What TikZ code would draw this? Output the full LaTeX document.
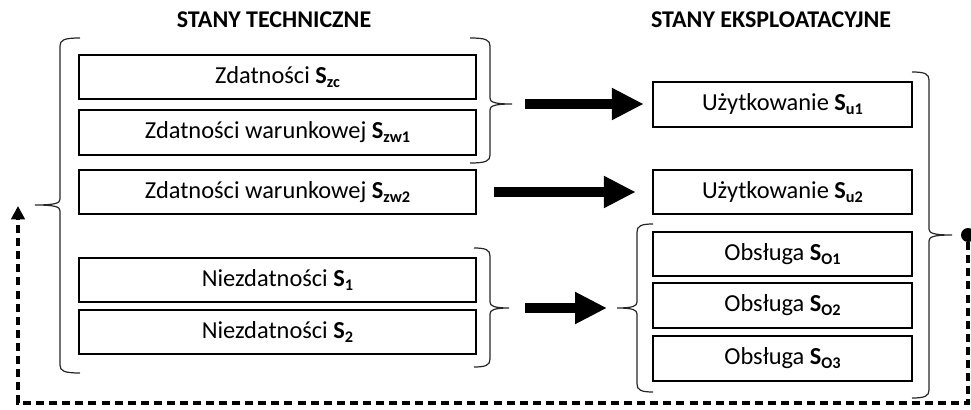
\documentclass[tikz,border=0pt]{standalone}
\usepackage{fontspec}
\setmainfont{Carlito}
\usepackage{tikz}
\usetikzlibrary{arrows.meta}

\newcommand{\stsub}[1]{\raisebox{-0.35ex}{\fontsize{12.2}{13}\selectfont\bfseries #1}}

\tikzset{
  ltbox/.style={draw, line width=1.8pt, inner sep=0pt, minimum width=297.75pt, minimum height=33.4pt,
    font=\fontsize{18.3}{21}\selectfont},
  rtbox/.style={ltbox, minimum width=194.25pt},
  heading/.style={font=\fontsize{18}{21}\selectfont\bfseries},
  curly/.style={line width=0.9pt, black!85},
  blockarrow/.style={line width=7.5pt, -{Triangle[length=24pt,width=22.5pt]}},
  feedback/.style={line width=2.8pt, dash pattern=on 6pt off 3.8pt, -{Triangle[length=10pt,width=10pt]}}
}

\begin{document}
\begin{tikzpicture}[x=0.75pt,y=0.75pt,yscale=-1,xscale=1]
\useasboundingbox (0,0) rectangle (971,410);

% Text Node
\node[heading] (techhead) at (274,20) {STANY TECHNICZNE};
% Text Node
\node[heading] (ekshead) at (771,20) {STANY EKSPLOATACYJNE};

%Shape: Rectangle
\node[ltbox] (zc) at (277.5,77) {Zdatności \textbf{S}\stsub{zc}};
\node[ltbox] (zw1) at (277.5,132.5) {Zdatności warunkowej \textbf{S}\stsub{zw1}};
\node[ltbox] (zw2) at (277.5,192) {Zdatności warunkowej \textbf{S}\stsub{zw2}};
\node[ltbox] (s1) at (277.5,280) {Niezdatności \textbf{S}\stsub{1}};
\node[ltbox] (s2) at (277.5,332) {Niezdatności \textbf{S}\stsub{2}};

%Shape: Rectangle
\node[rtbox] (u1) at (782.5,104.5) {Użytkowanie \textbf{S}\stsub{u1}};
\node[rtbox] (u2) at (782.5,192) {Użytkowanie \textbf{S}\stsub{u2}};
\node[rtbox] (o1) at (782.5,254) {Obsługa \textbf{S}\stsub{O1}};
\node[rtbox] (o2) at (782.5,305.5) {Obsługa \textbf{S}\stsub{O2}};
\node[rtbox] (o3) at (782.5,358.5) {Obsługa \textbf{S}\stsub{O3}};

%Shape: Brace
\draw[curly] (80,38) .. controls (64,38) and (60,40) .. (60,46) -- (60,199) .. controls (60,203) and (56,205) .. (35,205)
  .. controls (56,205) and (60,207) .. (60,211) -- (60,365) .. controls (60,371) and (64,373) .. (80,373);
%Shape: Brace
\draw[curly] (470,38) .. controls (486,38) and (490,40) .. (490,46) -- (490,98) .. controls (490,102) and (494,104) .. (512,104)
  .. controls (494,104) and (490,106) .. (490,110) -- (490,155) .. controls (490,161) and (486,163) .. (470,163);
%Shape: Brace
\draw[curly] (474,248) .. controls (486,248) and (490,250) .. (490,256) -- (490,302) .. controls (490,306) and (494,308) .. (509,308)
  .. controls (494,308) and (490,310) .. (490,314) -- (490,359) .. controls (490,365) and (486,367) .. (474,367);
%Shape: Brace
\draw[curly] (653,224) .. controls (641,224) and (637,226) .. (637,232) -- (637,302) .. controls (637,306) and (633,308) .. (617,308)
  .. controls (633,308) and (637,310) .. (637,314) -- (637,384) .. controls (637,390) and (641,392) .. (653,392);
%Shape: Brace
\draw[curly] (912,72) .. controls (925,72) and (929,74) .. (929,80) -- (929,229) .. controls (929,233) and (933,235) .. (952,235)
  .. controls (933,235) and (929,237) .. (929,241) -- (929,390) .. controls (929,396) and (925,398) .. (912,398);

% brace tips
\coordinate (tipA) at (512,104);
\coordinate (tipB) at (509,308);
\coordinate (tipC) at (617,308);

%Arrows
\draw[blockarrow, shorten <=9.75pt, shorten >=6pt] (tipA) -- (tipA -| u1.west);
\draw[blockarrow, shorten <=12.75pt, shorten >=12pt] (zw2.east) -- (u2.west);
\draw[blockarrow, shorten <=12pt, shorten >=7.5pt] (tipB) -- (tipC);

%Return line
\node[circle, fill, inner sep=0pt, minimum size=10.5pt] (dot) at (968,235) {};
\coordinate (lowR) at (968,403);
\coordinate (back) at (18,206);
\draw[feedback] (dot) -- (lowR) -| (back);

\end{tikzpicture}
\end{document}
